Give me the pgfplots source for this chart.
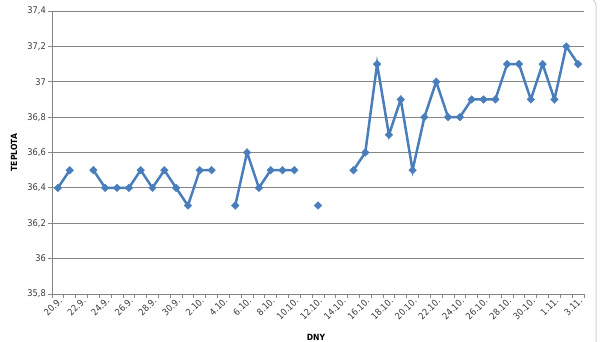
\documentclass[border=0pt]{standalone}
\usepackage{pgfplots}
\pgfplotsset{compat=1.18}
\usepackage{fontspec}
\setmainfont{DejaVu Sans Condensed}
\definecolor{xlblue}{HTML}{4A7EBB}
\definecolor{xlgrid}{HTML}{868686}
\definecolor{xltext}{HTML}{3A3A3A}
\begin{document}
\begin{tikzpicture}[x=1pt,y=1pt]
\useasboundingbox (-52,-48) rectangle (548,294);
\draw[gray!35, line width=1pt, rounded corners=8pt] (-80,-80) rectangle (544,296);
\begin{axis}[
  at={(0,0)}, anchor=south west,
  scale only axis, width=532pt, height=283pt,
  xmin=-0.5, xmax=44.5, ymin=35.8, ymax=37.4,
  unbounded coords=jump,
  axis x line*=bottom, axis y line*=left,
  axis line style={xlgrid, line width=0.8pt},
  xtick={0,2,...,44},
  xticklabels={20.9.,22.9.,24.9.,26.9.,28.9.,30.9.,2.10.,4.10.,6.10.,8.10.,10.10.,12.10.,14.10.,16.10.,18.10.,20.10.,22.10.,24.10.,26.10.,28.10.,30.10.,1.11.,3.11.},
  minor xtick={-0.5,0.5,...,44.5},
  major tick length=4pt,
  minor tick length=4pt,
  tick align=outside,
  ytick={35.8,36,...,37.4},
  every tick/.style={xlgrid, line width=0.8pt},
  major x tick style={draw=none},
  ymajorgrids, grid style={xlgrid, line width=0.8pt},
  minor grid style={draw=none},
  yticklabel style={inner sep=2pt, /pgf/number format/.cd, fixed, precision=1, use comma, assume math mode=true},
  ticklabel style={font=\fontsize{9.2}{10}\selectfont, text=xltext},
  xticklabel style={rotate=45, anchor=north east, inner sep=1pt, xshift=2pt, yshift=2pt},
  clip=false,
]
\addplot[xlblue, line width=2.5pt, mark=square*, mark size=2.7pt, mark options={solid, rotate=45, line width=0.4pt}] coordinates {
(0,36.4) (1,36.5) (2,nan) (3,36.5) (4,36.4) (5,36.4) (6,36.4) (7,36.5) (8,36.4) (9,36.5)
(10,36.4) (11,36.3) (12,36.5) (13,36.5) (14,nan) (15,36.3) (16,36.6) (17,36.4) (18,36.5) (19,36.5)
(20,36.5) (21,nan) (22,36.3) (23,nan) (24,nan) (25,36.5) (26,36.6) (27,37.1) (28,36.7) (29,36.9)
(30,36.5) (31,36.8) (32,37.0) (33,36.8) (34,36.8) (35,36.9) (36,36.9) (37,36.9) (38,37.1) (39,37.1)
(40,36.9) (41,37.1) (42,36.9) (43,37.2) (44,37.1)
};
\end{axis}
\node[font=\bfseries\fontsize{8.5}{10}\selectfont, rotate=90] at (-38,141.5) {TEPLOTA};
\node[font=\bfseries\fontsize{8.5}{10}\selectfont] at (264,-43) {DNY};
\end{tikzpicture}
\end{document}
